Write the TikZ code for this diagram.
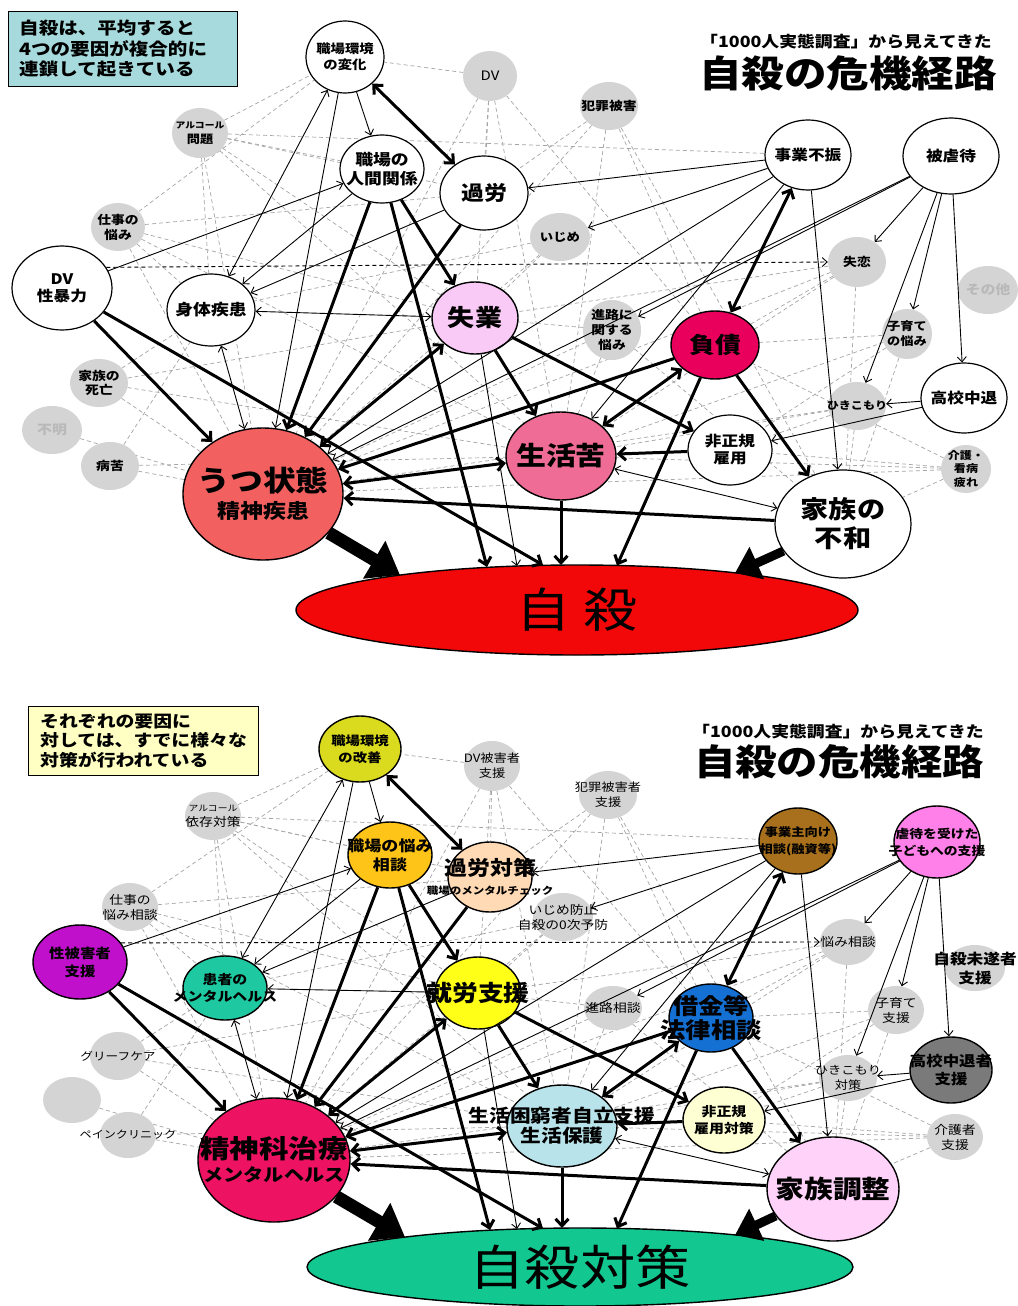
\documentclass[tikz,border=0pt]{standalone}
\usepackage{fontspec}
\setmainfont{Noto Sans CJK JP}[FakeStretch=1.15]
\usetikzlibrary{shapes.geometric,arrows.meta,backgrounds}
\newcommand\fz[2]{\fontsize{#1}{#2}\selectfont}
\definecolor{nodegray}{RGB}{212,212,212}
\definecolor{dashgray}{RGB}{165,165,165}
\definecolor{boxteal}{RGB}{166,218,220}
\definecolor{boxyel}{RGB}{255,255,196}
\definecolor{cunemp}{RGB}{249,202,246}
\definecolor{cdebt}{RGB}{232,0,92}
\definecolor{clife}{RGB}{238,108,150}
\definecolor{cdep}{RGB}{242,96,96}
\definecolor{csui}{RGB}{242,8,8}
\definecolor{benv}{RGB}{218,218,30}
\definecolor{brel}{RGB}{255,196,24}
\definecolor{bover}{RGB}{255,218,180}
\definecolor{bbiz}{RGB}{168,112,28}
\definecolor{babuse}{RGB}{255,128,232}
\definecolor{bdvsex}{RGB}{192,16,204}
\definecolor{bbody}{RGB}{30,200,160}
\definecolor{bunemp}{RGB}{255,255,24}
\definecolor{bdebt}{RGB}{20,112,210}
\definecolor{bdrop}{RGB}{122,122,122}
\definecolor{birreg}{RGB}{255,255,212}
\definecolor{blife}{RGB}{184,227,234}
\definecolor{bfamily}{RGB}{255,210,250}
\definecolor{bdep}{RGB}{238,18,98}
\definecolor{bsui}{RGB}{18,200,144}
\tikzset{
 wn/.style={ellipse, draw, line width=1.2pt, fill=white, inner sep=0pt},
 gn/.style={ellipse, fill=nodegray, inner sep=0pt},
 cn/.style={ellipse, draw, line width=1.4pt, fill=#1, inner sep=0pt},
 tn/.style={line width=0.9pt, -{Straight Barb[length=5pt,width=9pt]}},
 tnd/.style={line width=0.9pt, {Straight Barb[length=5pt,width=9pt]}-{Straight Barb[length=5pt,width=9pt]}},
 tk/.style={line width=3pt, -{Straight Barb[length=7pt,width=13pt]}},
 tkd/.style={line width=3pt, {Straight Barb[length=7pt,width=13pt]}-{Straight Barb[length=7pt,width=13pt]}},
 bigA/.style={line width=13pt, -{Triangle[length=30pt,width=42pt]}},
 bigB/.style={line width=9pt, -{Triangle[length=24pt,width=34pt]}},
 gd/.style={draw=dashgray, line width=0.7pt, dash pattern=on 4pt off 3pt},
 bd/.style={line width=0.9pt, dash pattern=on 4pt off 3pt, -{Straight Barb[length=5pt,width=9pt]}},
}
% style, name, position, width, height, font, text
\newcommand\mknode[7]{%
 \node[#1, minimum width=#4, minimum height=#5] (#2) at (#3) {};
 \node[align=center, inner sep=0pt, font=#6] (#2-t) at (#2.center) {#7};}
\newcommand\graphedges[1]{%
 \begin{scope}[on background layer]
  \foreach \a/\b in {alc/env, alc/rel, alc/over, alc/biz, alc/dep, alc/unemp, alc/body, alc/life,
    work/env, work/over, work/dep, work/life, work/unemp, work/body,
    dv/over, dv/unemp, dv/life, dv/dep, dv/debt, dv/env,
    crime/over, crime/dep, crime/life, crime/debt, crime/family,
    bully/dep, bully/unemp, bully/body,
    path/unemp, path/life, path/dep, path/family,
    love/dep, love/family, love/life, love/debt, love/unemp,
    child/family, child/life, child/debt, child/irreg,
    hiki/family, hiki/life, hiki/irreg, hiki/dep,
    care/family, care/life, care/dep, care/debt, care/irreg,
    death/dep, death/body, death/life, death/unemp,
    unk/dep, ill/dep, ill/body, ill/life}
   \draw[gd] (#1-\a) -- (#1-\b);
 \end{scope}
 \foreach \a/\b in {env/rel, env/dep, rel/body, dvsex/rel, over/body, biz/over, biz/bully,
    biz/dep, biz/life, biz/family, abuse/love, abuse/child, abuse/hiki, abuse/drop,
    abuse/path, abuse/dep, drop/hiki, drop/irreg}
   \draw[tn] (#1-\a) -- (#1-\b);
 \foreach \a/\b in {env/body, body/unemp, body/dep, life/family}
   \draw[tnd] (#1-\a) -- (#1-\b);
 \draw[tn] (#1-unemp) -- (#1-s3);
 \foreach \a/\b in {rel/unemp, rel/dep, over/dep, dvsex/dep, unemp/life, unemp/irreg,
    debt/dep, debt/family, irreg/life, family/dep}
   \draw[tk] (#1-\a) -- (#1-\b);
 \foreach \a/\b in {env/over, unemp/dep, biz/debt, debt/life, life/dep}
   \draw[tkd] (#1-\a) -- (#1-\b);
 \draw[tk] (#1-rel) -- (#1-s2);
 \draw[tk] (#1-dvsex) -- (#1-s4);
 \draw[tk] (#1-life) -- (#1-s5);
 \draw[tk] (#1-debt) -- (#1-s6);
 \draw[bigA] (#1-dep) -- (#1-s1);
 \draw[bigB] (#1-family) -- (#1-s7);
 \draw[bd] (#1-dvsex.25) -- (#1-love.west);
}
\begin{document}
\begin{tikzpicture}[x=1pt,y=-1pt]
\useasboundingbox (0,0) rectangle (1017,1306);
\begin{scope}[on background layer]
 \fill[white] (0,0) rectangle (1017,1306);
\end{scope}

% ================= TOP PANEL =================
\node[draw, line width=1pt, fill=boxteal, minimum width=229, minimum height=74, inner sep=0pt] (t-box) at (122.5,49) {};
\node[anchor=west, align=left, inner sep=0pt, font=\fz{17}{20.5}\bfseries] (t-boxt) at (19,49) {自殺は、平均すると\\4つの要因が複合的に\\連鎖して起きている};
\node[inner sep=0pt, font=\fz{15.5}{18}\bfseries] (t-title1) at (846,42) {「1000人実態調査」から見えてきた};
\node[inner sep=0pt, font=\fz{37}{40}\bfseries] (t-title2) at (848,73) {自殺の危機経路};

\mknode{wn}{t-env}{345,57}{78}{72}{\fz{12.5}{16}\bfseries}{職場環境\\の変化}
\mknode{gn}{t-dv}{490,76}{54}{50}{\fz{13}{15}}{DV}
\mknode{gn}{t-crime}{609,106}{58}{48}{\fz{12}{15}\bfseries}{犯罪被害}
\mknode{gn}{t-alc}{200,133}{56}{50}{\fz{11.5}{15}\bfseries}{{\fz{8.5}{15}アルコール}\\問題}
\mknode{wn}{t-rel}{382,169}{84}{68}{\fz{15.5}{19}\bfseries}{職場の\\人間関係}
\mknode{wn}{t-over}{484,193}{88}{74}{\fz{20}{24}\bfseries}{過労}
\mknode{wn}{t-biz}{808,155}{86}{70}{\fz{14.5}{18}\bfseries}{事業不振}
\mknode{wn}{t-abuse}{951,156}{96}{76}{\fz{14.5}{18}\bfseries}{被虐待}
\mknode{gn}{t-work}{118,227}{54}{48}{\fz{12}{15}\bfseries}{仕事の\\悩み}
\mknode{gn}{t-bully}{560,237}{60}{48}{\fz{11.6}{15}\bfseries}{いじめ}
\mknode{wn}{t-dvsex}{62,288}{100}{84}{\fz{14.5}{17}\bfseries}{DV\\性暴力}
\mknode{wn}{t-body}{211,310}{88}{72}{\fz{15.5}{18}\bfseries}{身体疾患}
\mknode{cn=cunemp}{t-unemp}{475,318}{86}{72}{\fz{23.5}{26}\bfseries}{失業}
\mknode{gn}{t-love}{857,262}{58}{50}{\fz{12}{15}\bfseries}{失恋}
\mknode{gn}{t-other}{988,290}{60}{48}{\fz{13}{15}\bfseries}{{\color{gray!55}その他}}
\mknode{gn}{t-path}{612,330}{58}{60}{\fz{12}{15}\bfseries}{進路に\\関する\\悩み}
\mknode{cn=cdebt}{t-debt}{715,345}{88}{68}{\fz{22.5}{26}\bfseries}{負債}
\mknode{gn}{t-child}{907,334}{50}{50}{\fz{11.5}{15}\bfseries}{子育て\\の悩み}
\mknode{wn}{t-drop}{964,398}{86}{70}{\fz{14.5}{18}\bfseries}{高校中退}
\mknode{gn}{t-hiki}{857,406}{58}{48}{\fz{10.5}{14}\bfseries}{ひきこもり}
\mknode{wn}{t-irreg}{730,450}{84}{70}{\fz{14.5}{17}\bfseries}{非正規\\雇用}
\mknode{gn}{t-care}{966,469}{50}{48}{\fz{10.5}{13.5}\bfseries}{介護・\\看病\\疲れ}
\mknode{cn=clife}{t-life}{561,456}{110}{88}{\fz{26}{30}\bfseries}{生活苦}
\mknode{wn}{t-family}{843,524}{136}{108}{\fz{24.5}{29}\bfseries}{家族の\\不和}
\mknode{gn}{t-death}{99,383}{58}{48}{\fz{12}{14.5}\bfseries}{家族の\\死亡}
\mknode{gn}{t-unk}{52,430}{60}{48}{\fz{13}{15}\bfseries}{{\color{gray!55}不明}}
\mknode{gn}{t-ill}{110,466}{58}{48}{\fz{12}{15}\bfseries}{病苦}
\mknode{cn=cdep}{t-dep}{263,494}{160}{132}{\fz{20}{27}\bfseries}{{\fz{28.5}{27}うつ状態}\\精神疾患}
\mknode{cn=csui}{t-sui}{577,610}{562}{90}{\fz{47}{50}}{自\hspace{12pt}殺}
\coordinate (t-s1) at (400,575);
\coordinate (t-s2) at (487,567);
\coordinate (t-s3) at (517,566);
\coordinate (t-s4) at (543,565);
\coordinate (t-s5) at (561,565);
\coordinate (t-s6) at (617,565.5);
\coordinate (t-s7) at (735,573);
\graphedges{t}

% ================= BOTTOM PANEL =================
\node[draw, line width=1pt, fill=boxyel, minimum width=230, minimum height=69, inner sep=0pt] (b-box) at (143,740.5) {};
\node[anchor=west, align=left, inner sep=0pt, font=\fz{16.4}{19.5}\bfseries] (b-boxt) at (40,741) {それぞれの要因に\\対しては、すでに様々な\\対策が行われている};
\node[inner sep=0pt, font=\fz{15.5}{18}\bfseries] (b-title1) at (838,732) {「1000人実態調査」から見えてきた};
\node[inner sep=0pt, font=\fz{36}{40}\bfseries] (b-title2) at (839,762) {自殺の危機経路};

\mknode{cn=benv}{b-env}{360,749}{82}{66}{\fz{12.5}{17}\bfseries}{職場環境\\の改善}
\mknode{gn}{b-dv}{492,766}{56}{50}{\fz{11.5}{15}}{DV被害者\\支援}
\mknode{gn}{b-crime}{608,795}{58}{48}{\fz{11.5}{15}}{犯罪被害者\\支援}
\mknode{gn}{b-alc}{213,816}{56}{48}{\fz{12}{15}}{{\fz{8.5}{15}アルコール}\\依存対策}
\mknode{cn=brel}{b-rel}{390,855}{84}{66}{\fz{14.8}{19}\bfseries}{職場の悩み\\相談}
\mknode{cn=bover}{b-over}{490,877}{84}{70}{\fz{10}{19}\bfseries}{{\fz{20}{19}過労対策}\\職場のメンタルチェック}
\mknode{cn=bbiz}{b-biz}{798,841}{78}{66}{\fz{11.5}{17}\bfseries}{事業主向け\\相談(融資等)}
\mknode{cn=babuse}{b-abuse}{937,842}{86}{72}{\fz{12}{17}\bfseries}{虐待を受けた\\子どもへの支援}
\mknode{gn}{b-work}{130,907}{56}{48}{\fz{12}{15}}{仕事の\\悩み相談}
\mknode{gn}{b-bully}{563,917}{60}{48}{\fz{12}{15}}{いじめ防止\\自殺の0次予防}
\mknode{cn=bdvsex}{b-dvsex}{80,962}{94}{74}{\fz{13.4}{18}\bfseries}{性被害者\\支援}
\mknode{cn=bbody}{b-body}{225,988}{84}{64}{\fz{13}{17}\bfseries}{患者の\\メンタルヘルス}
\mknode{gn}{b-love}{848,942}{56}{46}{\fz{12}{15}}{悩み相談}
\mknode{gn}{b-other}{975,968}{60}{46}{\fz{14.5}{19}\bfseries}{自殺未遂者\\支援}
\mknode{cn=bunemp}{b-unemp}{478,993}{86}{72}{\fz{22.5}{26}\bfseries}{就労支援}
\mknode{gn}{b-path}{613,1008}{58}{44}{\fz{12}{15}}{進路相談}
\mknode{cn=bdebt}{b-debt}{711,1018}{84}{68}{\fz{22}{24}\bfseries}{借金等\\法律相談}
\mknode{gn}{b-child}{896,1010}{56}{48}{\fz{12}{15}}{子育て\\支援}
\mknode{cn=bdrop}{b-drop}{951,1070}{82}{66}{\fz{14.3}{18}\bfseries}{高校中退者\\支援}
\mknode{gn}{b-hiki}{848,1078}{58}{46}{\fz{11.5}{15}}{ひきこもり\\対策}
\mknode{cn=birreg}{b-irreg}{724,1120}{82}{66}{\fz{13}{17}\bfseries}{非正規\\雇用対策}
\mknode{gn}{b-care}{955,1137}{56}{46}{\fz{12}{15}}{介護者\\支援}
\mknode{cn=blife}{b-life}{562,1126}{110}{82}{\fz{18}{20}\bfseries}{生活困窮者自立支援\\生活保護}
\mknode{cn=bfamily}{b-family}{833,1189}{132}{104}{\fz{25}{28}\bfseries}{家族調整}
\mknode{gn}{b-death}{118,1056}{56}{48}{\fz{11}{15}}{グリーフケア}
\mknode{gn}{b-unk}{72,1100}{58}{46}{\fz{11}{15}}{}
\mknode{gn}{b-ill}{128,1135}{56}{46}{\fz{10.5}{15}}{ペインクリニック}
\mknode{cn=bdep}{b-dep}{274,1160}{152}{124}{\fz{17.5}{23}\bfseries}{{\fz{25.7}{23}精神科治療}\\メンタルヘルス}
\mknode{cn=bsui}{b-sui}{580,1267}{546}{78}{\fz{48}{50}}{自殺対策}
\coordinate (b-s1) at (405,1237);
\coordinate (b-s2) at (490,1230);
\coordinate (b-s3) at (517,1229);
\coordinate (b-s4) at (543,1228.5);
\coordinate (b-s5) at (562,1228);
\coordinate (b-s6) at (617,1228.5);
\coordinate (b-s7) at (735,1235);
\graphedges{b}
\end{tikzpicture}
\end{document}
